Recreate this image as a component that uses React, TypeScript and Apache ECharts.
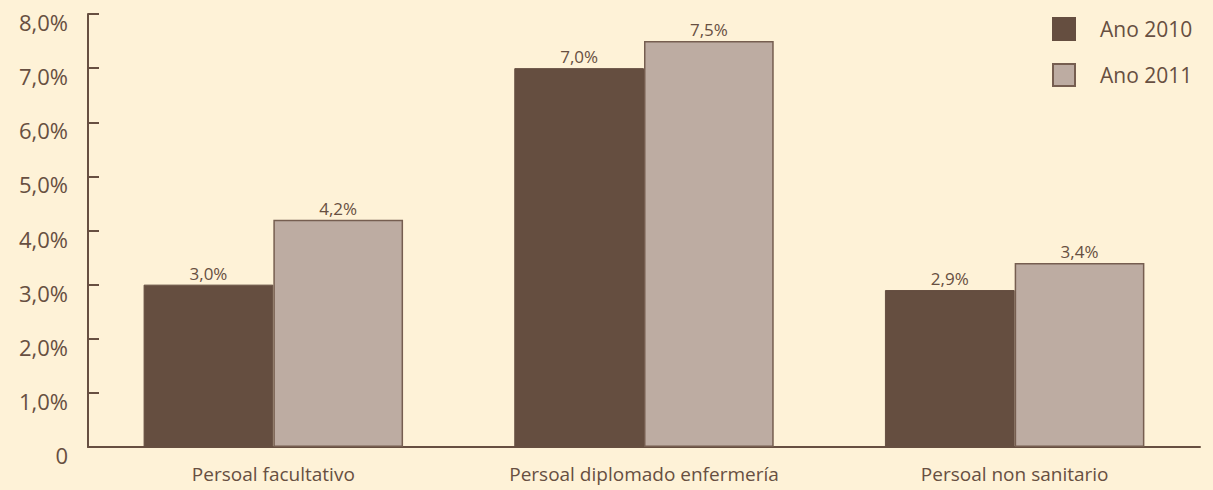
import React, { useEffect, useRef } from "react";
import * as echarts from "echarts";

const categories = [
  "Persoal facultativo",
  "Persoal diplomado enfermería",
  "Persoal non sanitario",
];
const series2010 = [3.0, 7.0, 2.9];
const series2011 = [4.2, 7.5, 3.4];
const seriesNames = ["Ano 2010", "Ano 2011"];

const BG = "#FEF2D7";
const INK = "#674F41";
const DARK = "#654E40";
const LIGHT = "#BDACA2";
const FONT = "'Open Sans', 'Noto Sans', sans-serif";

const pct = (v: number) => v.toFixed(1).replace(".", ",") + "%";

export default function App() {
  const ref = useRef<HTMLDivElement>(null);

  useEffect(() => {
    document.body.style.margin = "0";
    const chart = echarts.init(ref.current!, undefined, { renderer: "svg" });
    const valueLabel = {
      show: true,
      position: "top",
      distance: 3,
      fontFamily: FONT,
      fontSize: 17,
      color: INK,
      formatter: (p: any) => pct(p.value),
    };
    chart.setOption({
      animation: false,
      backgroundColor: BG,
      textStyle: { fontFamily: FONT, color: INK },
      grid: { left: 88, right: 13, top: 14, bottom: 43 },
      legend: {
        orient: "vertical",
        left: 1052,
        top: 17,
        padding: 0,
        itemWidth: 22,
        itemHeight: 22,
        itemGap: 22,
        icon: "rect",
        textStyle: {
          fontFamily: FONT,
          fontSize: 21,
          color: INK,
          padding: [0, 0, 0, 20],
        },
        data: seriesNames,
      },
      xAxis: {
        type: "category",
        data: categories,
        axisLine: { lineStyle: { color: INK, width: 2 } },
        axisTick: { inside: true, length: 10, lineStyle: { color: INK, width: 2 } },
        axisLabel: { fontFamily: FONT, fontSize: 19, color: INK, margin: 17 },
      },
      yAxis: {
        type: "value",
        min: 0,
        max: 8,
        interval: 1,
        axisLine: { show: true, lineStyle: { color: INK, width: 2 } },
        axisTick: { show: true, inside: true, length: 11, lineStyle: { color: INK, width: 2 } },
        splitLine: { show: false },
        axisLabel: {
          fontFamily: FONT,
          fontSize: 22,
          color: INK,
          margin: 20,
          verticalAlign: "top",
          lineHeight: 16,
          formatter: (v: number) => (v === 0 ? "0" : pct(v)),
        },
      },
      series: [
        {
          name: seriesNames[0],
          type: "bar",
          data: series2010,
          barGap: "0%",
          barCategoryGap: "30%",
          itemStyle: { color: DARK, borderColor: DARK, borderWidth: 1 },
          label: valueLabel,
        },
        {
          name: seriesNames[1],
          type: "bar",
          data: series2011,
          itemStyle: { color: LIGHT, borderColor: "#765E50", borderWidth: 1.5 },
          label: valueLabel,
        },
      ],
    });
    return () => chart.dispose();
  }, []);

  return (
    <div
      ref={ref}
      style={{ position: "absolute", left: 0, top: 0, width: 1213, height: 490, background: BG }}
    />
  );
}
